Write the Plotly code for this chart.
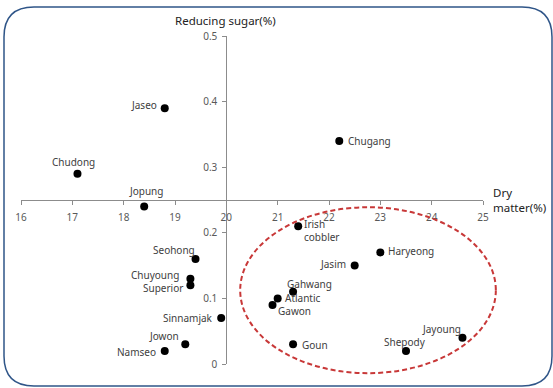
import plotly.graph_objects as go

# ---- data ----
varieties = ["Jaseo", "Chudong", "Chugang", "Jopung", "Seohong", "Chuyoung", "Superior",
             "Sinnamjak", "Jowon", "Namseo", "Irish<br>cobbler", "Haryeong", "Jasim",
             "Gahwang", "Atlantic", "Gawon", "Goun", "Shepody", "Jayoung"]
dry_matter = [18.8, 17.1, 22.2, 18.4, 19.4, 19.3, 19.3,
              19.9, 19.2, 18.8, 21.4, 23.0, 22.5,
              21.3, 21.0, 20.9, 21.3, 23.5, 24.6]
reducing_sugar = [0.39, 0.29, 0.34, 0.24, 0.16, 0.13, 0.12,
                  0.07, 0.03, 0.02, 0.21, 0.17, 0.15,
                  0.11, 0.10, 0.09, 0.03, 0.02, 0.04]
x_ticks = [16, 17, 18, 19, 20, 21, 22, 23, 24, 25]
y_ticks = [0, 0.1, 0.2, 0.3, 0.4, 0.5]
y_tick_text = ["0", "0.1", "0.2", "0.3", "0.4", "0.5"]

# ---- label placement (style) ----
label_pos = [
    ("right", -6, 3), ("center", -4, 12), ("left", 7, 0), ("center", 2, 16),
    ("right", 1, 9), ("right", -9, 4), ("right", -5, -3), ("right", -6, 0),
    ("right", -4, 8), ("right", -7, -1), ("left", 4, -4), ("left", 6, 1),
    ("right", -7, 2), ("left", -8, 8), ("left", 5, 0), ("left", 3, -6),
    ("left", 7, -1), ("center", -1, 9), ("right", 1, 9),
]

W, H = 553, 388
ML, MR, MT, MB = 21, 70, 36, 24
XR = [16, 25]
YR = [0, 0.5]
PW, PH = W - ML - MR, H - MT - MB


def px2paper(px, py):
    return (px - ML) / PW, (H - MB - py) / PH


def data2paper(x, y):
    return (x - XR[0]) / (XR[1] - XR[0]), (y - YR[0]) / (YR[1] - YR[0])


fig = go.Figure()
fig.add_trace(go.Scatter(
    x=dry_matter, y=reducing_sugar, mode="markers",
    marker=dict(color="black", size=8),
    hoverinfo="skip", showlegend=False, cliponaxis=False,
))

annotations = []
for name, x, y, (anc, dx, dy) in zip(varieties, dry_matter, reducing_sugar, label_pos):
    annotations.append(dict(
        x=x, y=y, xref="x", yref="y", text=name, showarrow=False,
        xanchor=anc, yanchor="middle", xshift=dx, yshift=dy,
        align="left",
        font=dict(family="Noto Sans", size=10, color="#404040"),
    ))

tx, ty = px2paper(225.5, 20.7)
annotations.append(dict(x=tx, y=ty, xref="paper", yref="paper", text="Reducing sugar(%)",
                        showarrow=False, xanchor="center", yanchor="middle",
                        font=dict(family="Noto Sans", size=11.5, color="#222222")))
tx, ty = px2paper(491, 199.5)
annotations.append(dict(x=tx, y=ty, xref="paper", yref="paper", text="Dry<br>matter(%)",
                        showarrow=False, xanchor="left", yanchor="middle", align="left",
                        font=dict(family="Noto Sans", size=11.5, color="#222222")))

# ellipse (decoration) in data units converted to paper
ex0, ey0 = data2paper(20.27, -0.014)
ex1, ey1 = data2paper(25.25, 0.239)

# rounded border in paper coordinates
bx0, by1 = px2paper(4, 7)
bx1, by0 = px2paper(552, 386)
rx = 30 / PW
ry = 30 / PH
border_path = (
    f"M {bx0 + rx} {by1} L {bx1 - rx} {by1} Q {bx1} {by1} {bx1} {by1 - ry} "
    f"L {bx1} {by0 + ry} Q {bx1} {by0} {bx1 - rx} {by0} "
    f"L {bx0 + rx} {by0} Q {bx0} {by0} {bx0} {by0 + ry} "
    f"L {bx0} {by1 - ry} Q {bx0} {by1} {bx0 + rx} {by1} Z"
)

fig.update_layout(
    width=W, height=H,
    margin=dict(l=ML, r=MR, t=MT, b=MB),
    paper_bgcolor="white", plot_bgcolor="white",
    annotations=annotations,
    shapes=[
        dict(type="circle", xref="paper", yref="paper", x0=ex0, x1=ex1, y0=ey0, y1=ey1,
             line=dict(color="#C83838", width=2, dash="5px,3px"), layer="above"),
        dict(type="path", xref="paper", yref="paper", path=border_path,
             line=dict(color="#2F5588", width=1.5)),
    ],
    xaxis=dict(range=XR, tickvals=x_ticks, ticktext=[str(v) for v in x_ticks],
               anchor="free", position=(0.25 - YR[0]) / (YR[1] - YR[0]),
               showgrid=False, zeroline=False, showline=True, linecolor="#8C8C8C",
               linewidth=1, ticks="outside", ticklen=4, tickcolor="#8C8C8C",
               ticklabelstandoff=4,
               tickfont=dict(family="Noto Sans", size=10, color="#595959")),
    yaxis=dict(range=YR, tickvals=y_ticks, ticktext=y_tick_text,
               anchor="free", position=(20 - XR[0]) / (XR[1] - XR[0]),
               showgrid=False, zeroline=False, showline=True, linecolor="#8C8C8C",
               linewidth=1, ticks="outside", ticklen=4, tickcolor="#8C8C8C",
               ticklabelstandoff=3,
               tickfont=dict(family="Noto Sans", size=10, color="#595959")),
)

fig.write_html("out.html")
